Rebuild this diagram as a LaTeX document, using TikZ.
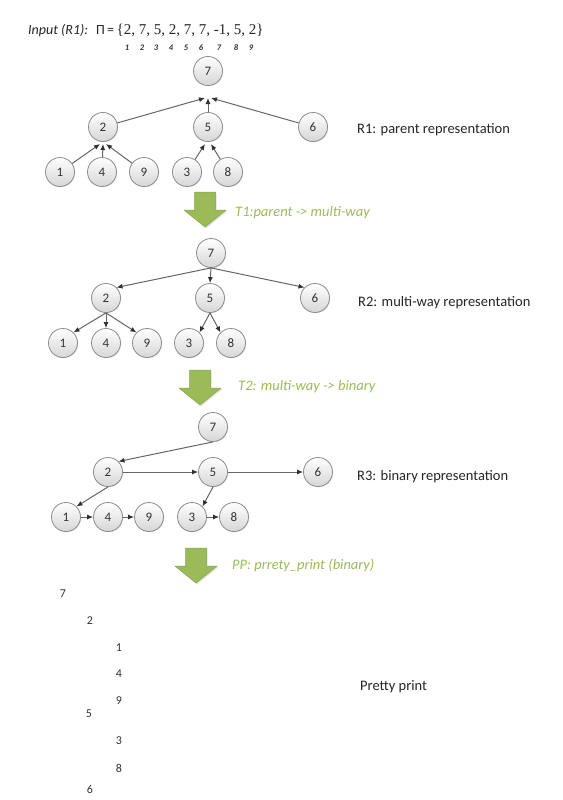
\documentclass[tikz,border=0pt]{standalone}
\usepackage{fontspec}
\setmainfont{Carlito}
\newfontfamily\serifset{Liberation Serif}
\usetikzlibrary{shadows,arrows.meta}
\definecolor{circgray}{HTML}{8C8C8C}
\definecolor{circbot}{HTML}{D6D6D6}
\definecolor{digit}{HTML}{333333}
\definecolor{edgegray}{HTML}{666666}
\definecolor{tipgray}{HTML}{303030}
\definecolor{garrowfill}{HTML}{9BBB59}
\definecolor{garrowline}{HTML}{86A44A}
\definecolor{gtext}{HTML}{9BBB59}
\definecolor{labtext}{HTML}{262626}
\begin{document}
\begin{tikzpicture}[x=1pt,y=-1pt,
  tn/.style={circle, draw=circgray, line width=0.8pt, minimum size=29pt, inner sep=0pt,
    top color=white, bottom color=circbot, font=\fontsize{13}{15}\selectfont, text=digit,
    drop shadow={opacity=0.18, shadow xshift=0.8pt, shadow yshift=-0.8pt}},
  ed/.style={draw=edgegray, line width=1pt, -{Latex[length=6pt,width=5pt,color=tipgray]}},
  lab/.style={anchor=west, font=\fontsize{14.5}{16}\selectfont, text=labtext, inner sep=0pt},
  glab/.style={anchor=west, font=\fontsize{14.5}{16}\selectfont\itshape, text=gtext, inner sep=0pt},
  pp/.style={font=\fontsize{12}{14}\selectfont, text=digit, inner sep=0pt},
  idx/.style={font=\fontsize{8.5}{10}\selectfont\itshape\bfseries, text=digit, inner sep=0pt},
  garrow/.pic={\path[fill=garrowfill, draw=garrowline, line width=0.5pt,
      drop shadow={opacity=0.25, shadow xshift=1.2pt, shadow yshift=-1.2pt}]
      (-10.5,0) -- (10.5,0) -- (10.5,18) -- (21,18) -- (0,35) -- (-21,18) -- (-10.5,18) -- cycle;}
]
\useasboundingbox[fill=white] (0,0) rectangle (562,800);

% input line
\node[anchor=base west, inner sep=0pt, font=\fontsize{14}{16}\selectfont\itshape, text=labtext] (inp) at (28,35) {Input (R1):};
\node[anchor=base west, inner sep=0pt, font=\fontsize{14}{16}\selectfont, text=labtext] (pi) at (96,35) {Π\,=\,{\serifset\fontsize{15}{17}\selectfont\{2, 7, 5, 2, 7, 7, -1, 5, 2\}}};
\foreach \i/\x in {1/127,2/142,3/156,4/171,5/186,6/201,7/219,8/236,9/251}
  \node[idx] (ix\i) at (\x,48) {\i};

% ---------- tree 1: parent representation
\node[tn] (a7) at (208,71) {7};
\node[tn] (a2) at (103,127) {2};
\node[tn] (a5) at (208,127) {5};
\node[tn] (a6) at (313,127) {6};
\node[tn] (a1) at (60,172) {1};
\node[tn] (a4) at (102,172) {4};
\node[tn] (a9) at (144,172) {9};
\node[tn] (a3) at (187,172) {3};
\node[tn] (a8) at (228,172) {8};
\coordinate (p7l) at (205,98);
\coordinate (p7m) at (208,98);
\coordinate (p7r) at (211,98);
\coordinate (p2l) at (100,144);
\coordinate (p2m) at (103,144);
\coordinate (p2r) at (106,144);
\coordinate (p5l) at (205,144);
\coordinate (p5r) at (211,144);
\draw[ed] (a2) -- (p7l);
\draw[ed] (a5) -- (p7m);
\draw[ed] (a6) -- (p7r);
\draw[ed] (a1) -- (p2l);
\draw[ed] (a4) -- (p2m);
\draw[ed] (a9) -- (p2r);
\draw[ed] (a3) -- (p5l);
\draw[ed] (a8) -- (p5r);
\node[lab] (r1) at (357,130) {R1: parent representation};

% arrow T1
\pic at (205,192) {garrow};
\node[glab] (t1) at (235,213) {T1:parent -> multi-way};

% ---------- tree 2: multi-way representation
\node[tn] (b7) at (211,253) {7};
\node[tn] (b2) at (106,298) {2};
\node[tn] (b5) at (210,298) {5};
\node[tn] (b6) at (315,298) {6};
\node[tn] (b1) at (63,343) {1};
\node[tn] (b4) at (106,343) {4};
\node[tn] (b9) at (147,343) {9};
\node[tn] (b3) at (189,343) {3};
\node[tn] (b8) at (231,343) {8};
\draw[ed] (b7.south) -- (b2.north east);
\draw[ed] (b7.south) -- (b5.north);
\draw[ed] (b7.south) -- (b6.north west);
\draw[ed] (b2.south) -- (b1.north east);
\draw[ed] (b2.south) -- (b4.north);
\draw[ed] (b2.south) -- (b9.north west);
\draw[ed] (b5.south) -- (b3.north east);
\draw[ed] (b5.south) -- (b8.north west);
\node[lab] (r2) at (358,303) {R2: multi-way representation};

% arrow T2
\pic at (200,370) {garrow};
\node[glab] (t2) at (238,387) {T2: multi-way -> binary};

% ---------- tree 3: binary representation
\node[tn] (c7) at (213,427) {7};
\node[tn] (c2) at (108,472) {2};
\node[tn] (c5) at (213,472) {5};
\node[tn] (c6) at (318,472) {6};
\node[tn] (c1) at (66,517) {1};
\node[tn] (c4) at (108,517) {4};
\node[tn] (c9) at (149,517) {9};
\node[tn] (c3) at (192,517) {3};
\node[tn] (c8) at (234,517) {8};
\draw[ed] (c7.south) -- (c2.north east);
\draw[ed] (c2) -- (c5);
\draw[ed] (c5) -- (c6);
\draw[ed] (c2.south) -- (c1.north east);
\draw[ed] (c5.south) -- (c3.north east);
\draw[ed] (c1) -- (c4);
\draw[ed] (c4) -- (c9);
\draw[ed] (c3) -- (c8);
\node[lab] (r3) at (357,477) {R3: binary representation};

% arrow PP
\pic at (196,548) {garrow};
\node[glab] (t3) at (232,565) {PP: prrety\_print (binary)};

% ---------- pretty print
\node[pp] (q7) at (63,594) {7};
\node[pp] (q2) at (90,621) {2};
\node[pp] (q1) at (119,648) {1};
\node[pp] (q4) at (119,674) {4};
\node[pp] (q9) at (119,701) {9};
\node[pp] (q5) at (89,714) {5};
\node[pp] (q3) at (119,741) {3};
\node[pp] (q8) at (119,768) {8};
\node[pp] (q6) at (90,789) {6};
\node[lab] (ppl) at (360,687) {Pretty print};
\end{tikzpicture}
\end{document}
